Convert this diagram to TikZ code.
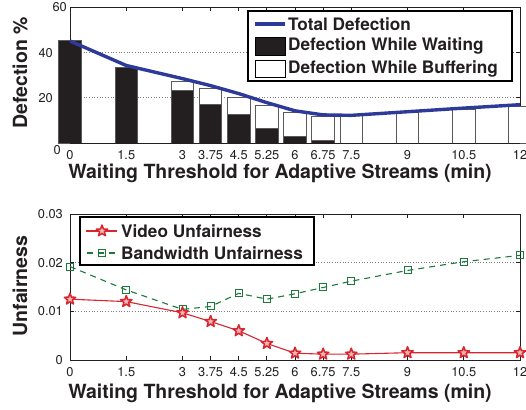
\documentclass[tikz,border=0pt]{standalone}
\usepackage{fontspec}
\setmainfont{TeX Gyre Heros}
\usetikzlibrary{shapes.geometric}
\definecolor{txt}{HTML}{231F20}
\definecolor{tblue}{HTML}{2E3A9A}
\definecolor{tred}{HTML}{D8262E}
\definecolor{tgreen}{HTML}{1B7A3A}
\definecolor{edgegray}{HTML}{5A5A5A}
\definecolor{barblack}{HTML}{231F20}
\tikzset{
  axisline/.style={draw=txt, line width=0.9pt},
  gridline/.style={draw=gray, line width=0.7pt, dotted},
  ticklab/.style={font=\fontsize{12.8}{14}\selectfont, text=txt, inner sep=0pt},
  axlab/.style={font=\fontsize{19.5}{22}\selectfont\bfseries, text=txt, inner sep=0pt},
  leglab/.style={font=\fontsize{17.2}{20}\selectfont\bfseries, text=txt, inner sep=0pt, anchor=west},
  legbox/.style={draw=black, line width=1.3pt, fill=white},
  barwhite/.style={fill=white, draw=edgegray, line width=0.9pt},
  barblk/.style={fill=barblack, draw=edgegray, line width=0.9pt},
  starmark/.style={star, star points=5, star point ratio=2.4, minimum size=12pt, inner sep=0pt, draw=tred, fill=tred!35, line width=1.5pt, line join=round},
  sqmark/.style={rectangle, minimum size=7pt, inner sep=0pt, draw=tgreen, line width=1pt},
}
\begin{document}
\begin{tikzpicture}[x=1pt,y=-1pt]
\useasboundingbox (0,0) rectangle (526,409);
\clip (0,0) rectangle (526,409);

% ================= TOP PLOT =================
\begin{scope}[shift={(70,143)}, x=37.5pt, y=2.2667pt]
  \draw[gridline] (0,20) -- (12,20);
  \draw[gridline] (0,40) -- (12,40);
  \draw[axisline] (0,0) rectangle (12,60);
  \foreach \t in {0,1.5,3,3.75,4.5,5.25,6,6.75,7.5,9,10.5,12} {
    \draw[axisline] (\t,60) -- ++(0pt,-4pt);
    \draw[axisline] (\t,0) -- ++(0pt,4pt);
  }
  \foreach \v in {20,40} {
    \draw[axisline] (0,\v) -- ++(4pt,0pt);
    \draw[axisline] (12,\v) -- ++(-4pt,0pt);
  }
  % bars
  \foreach \v/\tot/\w in {0/45.4/45.4, 1.5/33.5/33.5, 3/27/23, 3.75/24/17, 4.5/20.3/12.5, 5.25/16.5/6.5, 6/13.3/3, 6.75/11.5/1.3, 7.5/12.3/0, 9/13.7/0, 10.5/15/0, 12/16.3/0} {
    \draw[barwhite] (\v-0.3,0) rectangle (\v+0.3,\tot);
    \draw[barblk] (\v-0.3,0) rectangle (\v+0.3,\w);
  }
  \draw[axisline] (0,0) -- (12,0);
  % total defection
  \draw[tblue, line width=3.4pt, line join=round] plot coordinates {(0,45) (1.5,34.2) (3,28.4) (3.75,25.3) (4.5,21.8) (5.25,17.8) (6,14.2) (6.75,12.4) (7.5,12.2) (9,13.8) (10.5,15.4) (12,16.9)};
  % x tick labels
  \foreach \t [count=\i] in {0,1.5,3,3.75,4.5,5.25,6,6.75,7.5,9,10.5,12} {
    \node[ticklab] (ta\i) at ([yshift=-12pt]\t,0) {\t};
  }
\end{scope}
\node[ticklab, anchor=east] (ty60) at (67,7) {60};
\node[ticklab, anchor=east] (ty40) at (53,53) {40};
\node[ticklab, anchor=east] (ty20) at (53,98) {20};
\node[ticklab, anchor=east] (ty0) at (61,150) {0};
\node[axlab] (xlabA) at (280,173) {Waiting Threshold for Adaptive Streams (min)};
\node[axlab, rotate=90] (ylabA) at (20,73) {Defection \%};
% top legend
\draw[legbox] (248,11) rectangle (512,81);
\draw[tblue, line width=3.4pt] (255,24) -- (285,24);
\draw[barblk, draw=black] (255,37) rectangle (285,55);
\draw[barwhite, draw=black] (255,60) rectangle (285,77);
\node[leglab] (lgA1) at (288,24) {Total Defection};
\node[leglab] (lgA2) at (288,46) {Defection While Waiting};
\node[leglab] (lgA3) at (288,69) {Defection While Buffering};

% ================= BOTTOM PLOT =================
\begin{scope}[shift={(70,360)}, x=37.5pt, y=4.8667pt]
  \draw[gridline] (0,10) -- (12,10);
  \draw[gridline] (0,20) -- (12,20);
  \draw[axisline] (0,0) rectangle (12,30);
  \foreach \t in {0,1.5,3,3.75,4.5,5.25,6,6.75,7.5,9,10.5,12} {
    \draw[axisline] (\t,30) -- ++(0pt,-4pt);
    \draw[axisline] (\t,0) -- ++(0pt,4pt);
  }
  \foreach \v in {10,20} {
    \draw[axisline] (0,\v) -- ++(4pt,0pt);
    \draw[axisline] (12,\v) -- ++(-4pt,0pt);
  }
  % bandwidth unfairness
  \draw[tgreen, line width=1.1pt, dash pattern=on 6pt off 5pt] plot coordinates {(0,19.2) (1.5,14.4) (3,10.4) (3.75,11) (4.5,13.7) (5.25,12.5) (6,13.6) (6.75,14.9) (7.5,16.2) (9,18.4) (10.5,20.2) (12,21.5)};
  \foreach \x/\y [count=\i] in {0/19.2, 1.5/14.4, 3/10.4, 3.75/11, 4.5/13.7, 5.25/12.5, 6/13.6, 6.75/14.9, 7.5/16.2, 9/18.4, 10.5/20.2, 12/21.5} {
    \node[sqmark] (bw\i) at (\x,\y) {};
  }
  % video unfairness
  \draw[tred, line width=1.1pt] plot coordinates {(0,12.5) (1.5,12) (3,9.7) (3.75,7.9) (4.5,6) (5.25,3.4) (6,1.4) (6.75,1.2) (7.5,1.2) (9,1.5) (10.5,1.5) (12,1.5)};
  \foreach \x/\y [count=\i] in {0/12.5, 1.5/12, 3/9.7, 3.75/7.9, 4.5/6, 5.25/3.4, 6/1.4, 6.75/1.2, 7.5/1.2, 9/1.5, 10.5/1.5, 12/1.5} {
    \node[starmark] (vu\i) at (\x,\y) {};
  }
  \foreach \t [count=\i] in {0,1.5,3,3.75,4.5,5.25,6,6.75,7.5,9,10.5,12} {
    \node[ticklab] (tb\i) at ([yshift=-12pt]\t,0) {\t};
  }
\end{scope}
\node[ticklab, anchor=east] (tz3) at (63,214) {0.03};
\node[ticklab, anchor=east] (tz2) at (63,263) {0.02};
\node[ticklab, anchor=east] (tz1) at (63,311) {0.01};
\node[ticklab, anchor=east] (tz0) at (63,360) {0};
\node[axlab] (xlabB) at (280,393) {Waiting Threshold for Adaptive Streams (min)};
\node[axlab, rotate=90] (ylabB) at (20,286) {Unfairness};
% bottom legend
\draw[legbox] (80,217) rectangle (314,265);
\coordinate (lv1) at (86,231);
\coordinate (lv2) at (117,231);
\draw[tred, line width=1.1pt] (lv1) -- (lv2);
\node[starmark] (lvs) at (102,231) {};
\coordinate (lb1) at (86,253);
\coordinate (lb2) at (117,253);
\draw[tgreen, line width=1.1pt, dash pattern=on 6pt off 5pt, dash phase=-1pt] (lb1) -- (lb2);
\node[sqmark] (lbs) at (102,253) {};
\node[leglab] (lgB1) at (121,231) {Video Unfairness};
\node[leglab] (lgB2) at (121,253) {Bandwidth Unfairness};
\end{tikzpicture}
\end{document}
